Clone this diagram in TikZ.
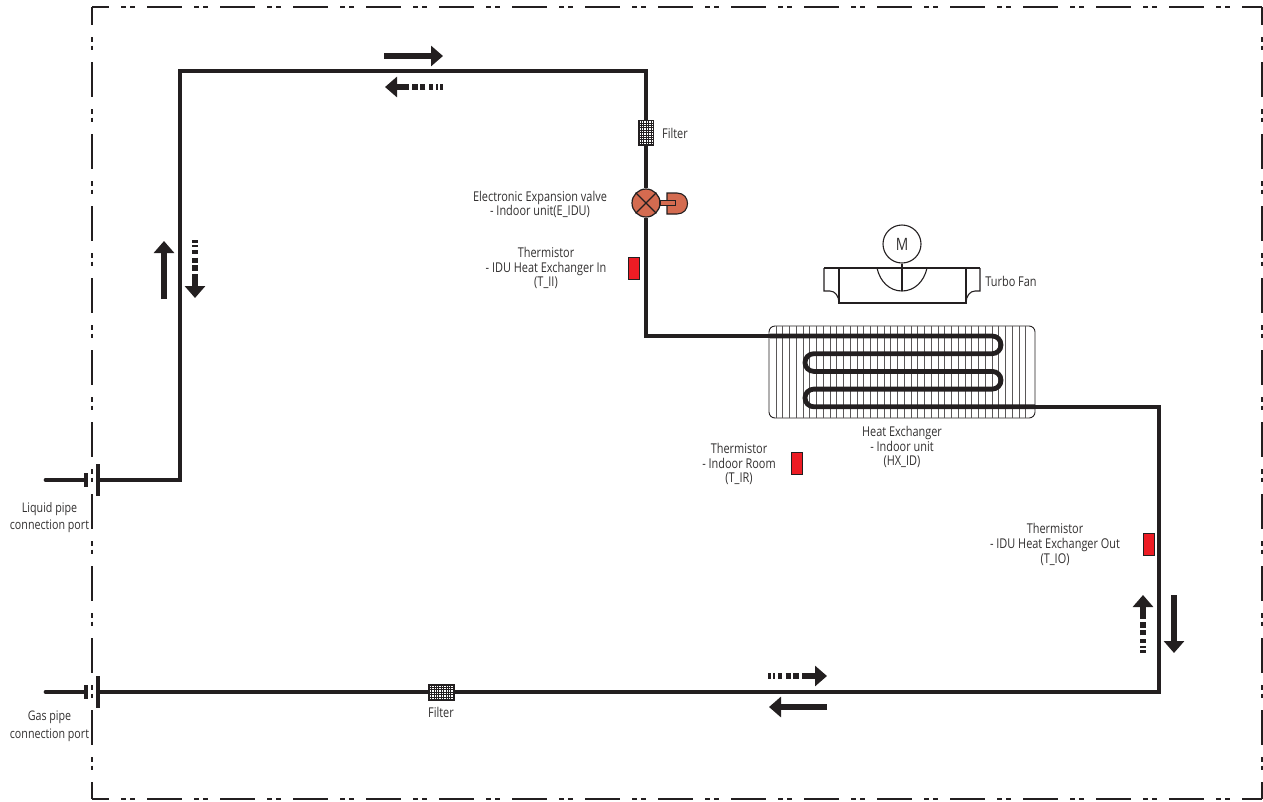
\documentclass[tikz,border=0pt]{standalone}
\usepackage{fontspec}
\setmainfont[FakeStretch=0.81]{Open Sans}
\usepackage{xcolor}
\usetikzlibrary{arrows.meta,calc}
\definecolor{pipeK}{RGB}{35,31,32}
\definecolor{textK}{RGB}{50,48,48}
\definecolor{valveR}{RGB}{212,107,80}
\definecolor{sensR}{RGB}{237,28,36}
\begin{document}
\begin{tikzpicture}[
  x=1pt, y=-1pt,
  pipe/.style={draw=pipeK, line width=3.6pt, line join=miter},
  coil/.style={draw=pipeK, line width=4.8pt, rounded corners=8.8pt},
  outline/.style={pipeK, line width=2.2pt},
  plate/.style={fill=pipeK, draw=none, inner sep=0pt, minimum width=3.4pt},
  label/.style={align=center, text=textK, inner sep=0pt, font=\fontsize{13.5}{14.6}\selectfont},
  filterbox/.style={draw=pipeK, fill=white, line width=.5pt, inner sep=0pt, path picture={
    \draw[pipeK, line width=.55pt, step=2.4pt] (path picture bounding box.south west) grid (path picture bounding box.north east);}},
  sensor/.style={draw=pipeK, fill=sensR, line width=.6pt, inner sep=0pt, minimum width=11pt, minimum height=22pt},
  thinline/.style={draw=pipeK, line width=1.1pt},
  flowsolid/.style={draw=pipeK, line width=6.4pt, -{Triangle[length=12pt,width=20pt]}},
  flowdash/.style={draw=pipeK, line width=6.4pt, -{Triangle[length=12pt,width=20pt]},
    dash pattern=on 2.6pt off 2.4pt on 2.4pt off 2.6pt on 3.6pt off 4pt on 5pt off 2.7pt on 5.7pt off 3.3pt on 60pt off 0pt}
]
\useasboundingbox (0,0) rectangle (1263,801);
\coordinate (boxTL) at (92,7);
\coordinate (boxTR) at (1262,7);
\coordinate (boxBL) at (92,799);
\coordinate (boxBR) at (1262,799);
\draw[outline, dash pattern=on 35pt off 12pt on 5pt off 4pt on 5pt off 12pt, dash phase=18pt] (boxTL) -- (boxTR);
\draw[outline, dash pattern=on 35pt off 12pt on 5pt off 4pt on 5pt off 12pt, dash phase=18pt] (boxBL) -- (boxBR);
\draw[outline, dash pattern=on 35pt off 12pt on 4.5pt off 4pt on 4.5pt off 12pt, dash phase=17pt] (boxTL) -- (boxBL);
\draw[outline, dash pattern=on 35pt off 12pt on 4.5pt off 4pt on 4.5pt off 12pt, dash phase=17pt] (boxTR) -- (boxBR);

\foreach \nm/\px/\py in {liqStub/45.5/480, liqBend/180/480, liqTop/180/71, valveTop/646/71, valveBend/646/336,
  hxIn/770/336, hxOut/1035/406.8, outBend/1159/406.8, gasBend/1159/692, gasStub/45.5/692}
  \coordinate (\nm) at (\px,\py);

\node[plate, minimum height=14pt] (liqPortL) at (86,480) {};
\node[plate, minimum height=32pt] (liqPortR) at (98,480) {};
\node[plate, minimum height=14pt] (gasPortL) at (86,692) {};
\node[plate, minimum height=32pt] (gasPortR) at (98,692) {};

\node[filterbox, minimum width=15pt, minimum height=25pt] (filterLiq) at (646,132.5) {};
\node[filterbox, minimum width=25.5pt, minimum height=15.5pt] (filterGas) at (441,692) {};
\node[circle, draw=pipeK, fill=valveR, line width=1.2pt, minimum size=28pt, inner sep=0pt] (valve) at (646,203) {};
\draw[thinline] (valve.north west) -- (valve.south east);
\draw[thinline] (valve.north east) -- (valve.south west);
\draw[thinline, fill=valveR] (667,193) -- (677,193) .. controls (691,193) and (691,214) .. (677,214) -- (667,214) -- cycle;
\draw[thinline, fill=valveR] (660,200.7) rectangle (675.7,205.2);

\node[sensor] (sensII) at (633.5,268) {};
\node[sensor] (sensIR) at (796.5,463) {};
\node[sensor] (sensIO) at (1148.5,544) {};

\node[draw=pipeK, line width=.9pt, rounded corners=6pt, minimum width=266pt, minimum height=92pt, inner sep=0pt] (hx) at (902,372) {};
\foreach \i in {0,...,37}
  \draw[pipeK!75, line width=.55pt] ($(776,326.4)+(\i*6.75,0)$) -- ($(776,417.6)+(\i*6.75,0)$);

\draw[pipe, line cap=round] (liqStub) -- (liqPortL);
\draw[pipe] (liqPortR) -- (liqBend) -- (liqTop) -- (valveTop) -- (filterLiq);
\draw[pipe] (filterLiq) -- (valve);
\draw[pipe] (valve) -- (valveBend) -- (hxIn);
\draw[coil] (hxIn) -- (1001,336) -- (1001,353.7) -- (805,353.7) -- (805,371.4) -- (1001,371.4) -- (1001,389.1) -- (805,389.1) -- (805,406.8) -- (hxOut);
\draw[pipe] (hxOut) -- (outBend) -- (gasBend) -- (filterGas);
\draw[pipe] (filterGas) -- (gasPortR);
\draw[pipe, line cap=round] (gasStub) -- (gasPortL);

\node[circle, draw=pipeK, line width=1.1pt, minimum size=38pt, inner sep=0pt, text=textK, font=\fontsize{17}{17}\selectfont] (motor) at (902,244) {M};
\coordinate (fanHub) at (902,291);
\draw[thinline] (824,268) -- (980,268);
\draw[thinline] (839,268) -- (839,303) -- (966,303) -- (966,268);
\draw[thinline] (824,268) -- (824,291) -- (830,291) .. controls (835,291) and (839,296) .. (839,303);
\draw[thinline] (980,268) -- (980,291) -- (975,291) .. controls (970,291) and (966,296) .. (966,303);
\draw[thinline] (877,268) .. controls (880,282) and (890,291) .. (fanHub) .. controls (914,291) and (924,282) .. (927,268);
\draw[draw=pipeK, line width=1.6pt] (motor) -- (fanHub);

\foreach \nm/\px/\py in {topA/384/56, topB/443/56, topC/443/87, topD/385/87,
  leftA/164/299, leftB/164/241, leftC/195/240, leftD/195/298,
  rightA/1174/595, rightB/1174/653, rightC/1143/653, rightD/1143/595,
  botA/768/676, botB/827/676, botC/827/707, botD/769/707}
  \coordinate (\nm) at (\px,\py);
\draw[flowsolid] (topA) -- (topB);
\draw[flowdash] (topC) -- (topD);
\draw[flowsolid] (leftA) -- (leftB);
\draw[flowdash] (leftC) -- (leftD);
\draw[flowsolid] (rightA) -- (rightB);
\draw[flowdash] (rightC) -- (rightD);
\draw[flowdash] (botA) -- (botB);
\draw[flowsolid] (botC) -- (botD);

\node[label] (lblFilterLiq) at (675,133) {Filter};
\node[label] (lblFilterGas) at (441,712) {Filter};
\node[label] (lblValve) at (540,204.5) {Electronic Expansion valve\\- Indoor unit(E\_IDU)};
\node[label] (lblII) at (546,268) {Thermistor\\- IDU Heat Exchanger In\\(T\_II)};
\node[label] (lblFan) at (1011,281) {Turbo Fan};
\node[label] (lblHx) at (902,447) {Heat Exchanger\\- Indoor unit\\(HX\_ID)};
\node[label] (lblIR) at (739,464) {Thermistor\\- Indoor Room\\(T\_IR)};
\node[label] (lblIO) at (1055,544.5) {Thermistor\\- IDU Heat Exchanger Out\\(T\_IO)};
\node[label, font=\fontsize{13.2}{17.5}\selectfont] (lblLiq) at (49.5,517.5) {Liquid pipe\\connection port};
\node[label, font=\fontsize{13.2}{17.5}\selectfont] (lblGas) at (49.5,726) {Gas pipe\\connection port};
\end{tikzpicture}
\end{document}
